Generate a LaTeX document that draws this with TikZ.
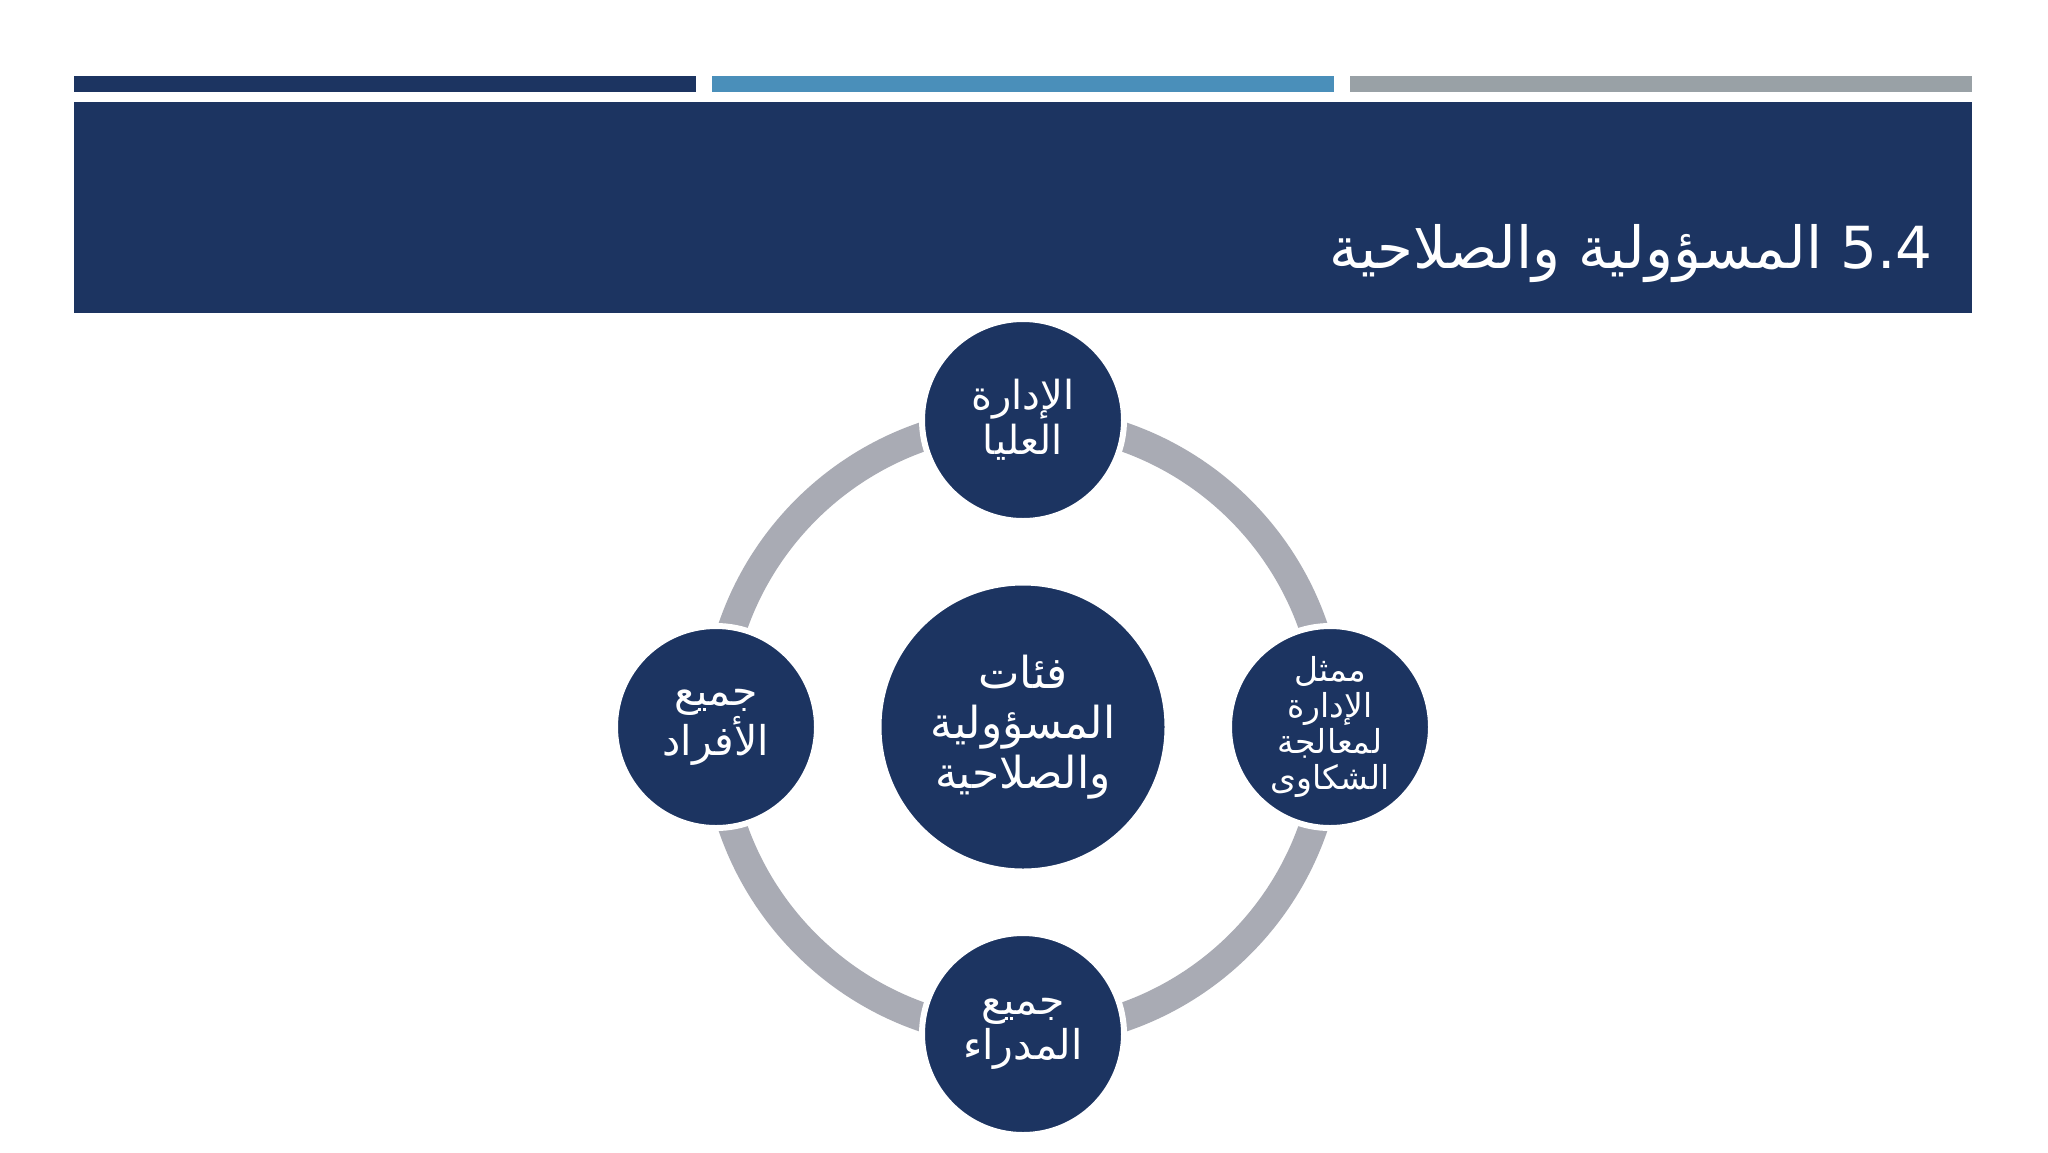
\documentclass[tikz,border=0pt]{standalone}
\usepackage{fontspec}
\TeXXeTstate=1
\newfontfamily\arabicfont[Script=Arabic]{DejaVu Sans}
\newcommand{\artext}[1]{{\arabicfont\beginR #1\endR}}
\definecolor{navy}{HTML}{1C3461}
\definecolor{midblue}{HTML}{4A8FBA}
\definecolor{bargray}{HTML}{99A1A6}
\definecolor{ringgray}{HTML}{A9ABB4}
\tikzset{
  topbar/.style={inner sep=0pt, minimum height=16pt, minimum width=622pt, anchor=north west},
  bubble/.style={circle, fill=navy, draw=white, line width=6pt, minimum size=202pt, inner sep=0pt, text=white, align=center},
  hub/.style={circle, fill=navy, draw=white, line width=5pt, minimum size=288pt, inner sep=0pt, text=white, align=center}
}
\begin{document}
\begin{tikzpicture}[x=1pt,y=-1pt]
\useasboundingbox (0,0) rectangle (2048,1152);
\fill[white] (0,0) rectangle (2048,1152);
% top bars
\node[topbar, fill=navy] (bar1) at (74,76) {};
\node[topbar, fill=midblue] (bar2) at (712,76) {};
\node[topbar, fill=bargray] (bar3) at (1350,76) {};
% banner
\node[fill=navy, inner sep=0pt, minimum width=1898pt, minimum height=211pt, anchor=north west] (banner) at (74,102) {};
\node[anchor=base east, text=white, inner sep=0pt, font=\fontsize{58}{66}\selectfont] (title) at (1933,268)
  {\artext{\beginL 5.4\endL{} المسؤولية والصلاحية}};
% ring
\coordinate (ctr) at (1023,727);
\draw[ringgray, line width=29pt] (ctr) circle[radius=307pt];
% hub
\node[hub, font=\fontsize{44}{50}\selectfont] (hubnode) at (ctr)
  {\artext{فئات}\\\artext{المسؤولية}\\\artext{والصلاحية}};
% satellites
\node[bubble, font=\fontsize{40}{45}\selectfont] (top) at (1023,420)
  {\artext{الإدارة}\\\artext{العليا}};
\node[bubble, font=\fontsize{33}{36}\selectfont] (right) at (1330,727)
  {\artext{ممثل}\\\artext{الإدارة}\\\artext{لمعالجة}\\\artext{الشكاوى}};
\node[bubble, font=\fontsize{41}{45}\selectfont] (bottom) at (1023,1034)
  {\artext{جميع}\\\artext{المدراء}};
\node[bubble, font=\fontsize{41}{45}\selectfont] (left) at (716,727)
  {\artext{جميع}\\\artext{الأفراد}};
\end{tikzpicture}
\end{document}
